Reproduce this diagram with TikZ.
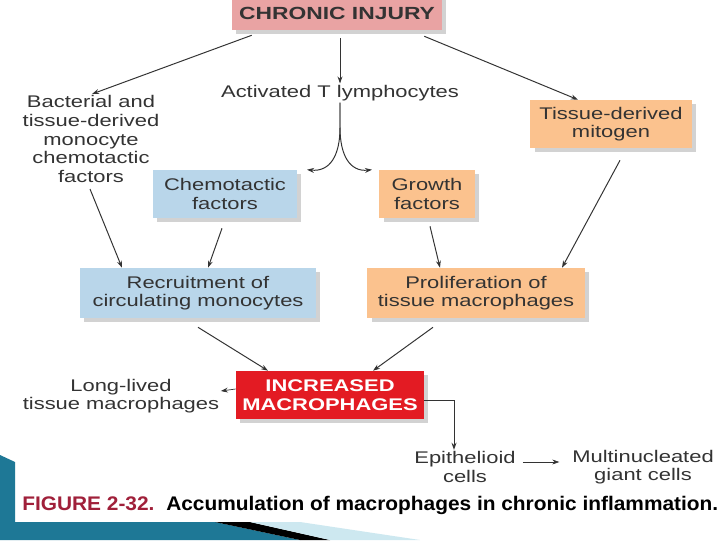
\documentclass[tikz,border=0pt]{standalone}
\usepackage{fontspec}
\setmainfont[FakeStretch=1.3]{Liberation Sans}
\newfontfamily\capfont[FakeStretch=1.06]{Liberation Sans}
\usepackage{tikz}
\usetikzlibrary{arrows.meta}
\usetikzlibrary{shadows}
\definecolor{injury}{RGB}{233,163,163}
\definecolor{bluebox}{RGB}{185,214,234}
\definecolor{orangebox}{RGB}{251,194,142}
\definecolor{macred}{RGB}{227,27,35}
\definecolor{capred}{RGB}{160,32,58}
\definecolor{ink}{RGB}{51,51,51}
\definecolor{slideteal}{RGB}{30,120,150}
\definecolor{slidelight}{RGB}{205,232,240}
\tikzset{
  box/.style={draw=none, align=center, text=ink, inner sep=2pt,
    drop shadow={opacity=0.35, shadow xshift=3pt, shadow yshift=-3pt}},
  txt/.style={align=center, text=ink, inner sep=1pt},
  arr/.style={draw=ink, line width=0.7pt, -{Stealth[length=5pt,width=3.5pt]}}
}
\begin{document}
\begin{tikzpicture}[x=0.025cm, y=-0.025cm, font=\fontsize{12}{13.2}\selectfont]
    \useasboundingbox[fill=white] (0,0) rectangle (720,540);
    \fill[slideteal] (0,455) -- (15,462) -- (15,522) -- (215,522) -- (300,540) -- (0,540) -- cycle;
    \fill[black] (215,522) -- (250,522) -- (330,540) -- (300,540) -- cycle;
    \fill[slidelight] (250,522) -- (300,522) -- (420,540) -- (330,540) -- cycle;
    \node[box, fill=injury, minimum width=5.25cm, minimum height=0.85cm] (injury) at (337,13) {\fontsize{12.5}{14}\selectfont\bfseries CHRONIC INJURY};
    \node[txt] (tcells) at (340,93) {Activated T lymphocytes};
    \node[txt] (bact) at (91,139) {Bacterial and\\tissue-derived\\monocyte\\chemotactic\\factors};
    \node[box, fill=orangebox, minimum width=4.03cm, minimum height=1.2cm] (mitogen) at (611,124) {Tissue-derived\\mitogen};
    \node[box, fill=bluebox, minimum width=3.6cm, minimum height=1.2cm] (chemo) at (225,194) {Chemotactic\\factors};
    \node[box, fill=orangebox, minimum width=2.38cm, minimum height=1.2cm] (growth) at (427,194) {Growth\\factors};
    \node[box, fill=bluebox, minimum width=5.9cm, minimum height=1.25cm] (recruit) at (198,293) {Recruitment of\\circulating monocytes};
    \node[box, fill=orangebox, minimum width=5.43cm, minimum height=1.25cm] (prolif) at (476,293) {Proliferation of\\tissue macrophages};
    \node[box, fill=macred, text=white, minimum width=4.7cm, minimum height=1.2cm] (macro) at (330,395) {\bfseries INCREASED\\\bfseries MACROPHAGES};
    \node[txt] (longlived) at (121,396) {Long-lived\\tissue macrophages};
    \node[txt] (epith) at (465,467) {Epithelioid\\cells};
    \node[txt] (giant) at (643,467) {Multinucleated\\giant cells};
    \node[inner sep=0pt, anchor=west] (caption) at (22,505) {\capfont\fontsize{14}{16}\selectfont\bfseries\textcolor{capred}{FIGURE 2-32.}\hspace{0.6em}\textcolor{black}{Accumulation of macrophages in chronic inflammation.}};
    \draw[arr] (injury.south west) ++(20,5) coordinate (a1) (a1) -- (bact.north east -| 92,90);
    \draw[arr] (injury.south -| tcells) ++(0,8) coordinate (a2) (a2) -- (tcells.north);
    \draw[arr] (injury.south east) ++(-18,6) coordinate (a3) (a3) -- (mitogen.north -| 578,98);
    \draw[arr] (tcells.south) -- ++(0,25) .. controls +(0,28) and (330,172) .. (chemo.north east -| 307,173);
    \draw[arr] (tcells.south) -- ++(0,25) .. controls +(0,28) and (350,172) .. (growth.north west -| 372,173);
    \draw[arr] (bact.south) ++(-1,5) coordinate (a4) (a4) -- (recruit.north -| 122,262);
    \draw[arr] (chemo.south) ++(-3,10) coordinate (a5) (a5) -- (recruit.north -| 208,262);
    \draw[arr] (growth.south) ++(3,8) coordinate (a6) (a6) -- (prolif.north -| 440,262);
    \draw[arr] (mitogen.south) ++(9,12) coordinate (a7) (a7) -- (prolif.north -| 562,247);
    \draw[arr] (recruit.south) ++(0,9) coordinate (a8) (a8) -- (macro.north -| 268,365);
    \draw[arr] (prolif.south) ++(-43,9) coordinate (a9) (a9) -- (macro.north -| 373,365);
    \draw[arr, line width=0.5pt] (macro.west |- 0,389) -- (longlived.east |- 0,391);
    \draw[arr] (macro.east |- 0,400) -| (epith.north -| 454,447);
    \draw[arr, line width=0.5pt, shorten <=4pt, shorten >=8pt] (epith.east |- 0,462) -- (giant.west |- 0,462);
\end{tikzpicture}
\end{document}
